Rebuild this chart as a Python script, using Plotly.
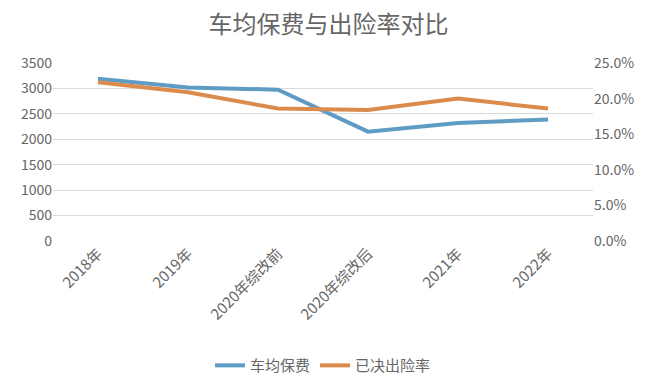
import plotly.graph_objects as go

categories = ["2018年", "2019年", "2020年综改前", "2020年综改后", "2021年", "2022年"]
avg_premium = [3190, 3020, 2975, 2150, 2320, 2390]
claim_rate = [0.223, 0.209, 0.186, 0.184, 0.200, 0.186]

FONT = "Noto Sans CJK SC, Noto Sans, sans-serif"
GREY = "#666666"

fig = go.Figure()
fig.add_trace(go.Scatter(x=categories, y=avg_premium, name="车均保费", mode="lines",
                         line=dict(color="#5E9CC4", width=4)))
fig.add_trace(go.Scatter(x=categories, y=claim_rate, name="已决出险率", mode="lines",
                         line=dict(color="#DB8B4C", width=4), yaxis="y2"))

fig.update_layout(
    width=657, height=390,
    paper_bgcolor="white", plot_bgcolor="white",
    margin=dict(l=53, r=64, t=63, b=149, autoexpand=False),
    font=dict(family=FONT, color=GREY, size=14),
    title=dict(text="车均保费与出险率对比", x=0.5, xanchor="center", y=0.936, yanchor="middle",
               font=dict(size=24, color="#666666", family=FONT)),
    xaxis=dict(type="category", range=[-0.5, 5.5], tickangle=-45, showgrid=False, showline=False,
               zeroline=False, ticks="", automargin=False, tickfont=dict(size=15, color=GREY)),
    yaxis=dict(range=[0, 3500], dtick=500, showgrid=True, gridcolor="#D9D9D9", gridwidth=1,
               zeroline=False, showline=False, ticks="", automargin=False,
               tickfont=dict(size=14, color=GREY)),
    yaxis2=dict(range=[0, 0.25], dtick=0.05, tickformat=".1%", overlaying="y", side="right",
                showgrid=False, zeroline=False, showline=False, ticks="", automargin=False,
                tickfont=dict(size=14, color=GREY)),
    legend=dict(orientation="h", x=0.5, xanchor="center", y=-0.70, yanchor="middle",
                font=dict(size=15, color=GREY), bgcolor="rgba(0,0,0,0)"),
    showlegend=True,
)

fig.write_html("out.html", config={"displayModeBar": False},
               post_script="document.body.style.margin='0';")
